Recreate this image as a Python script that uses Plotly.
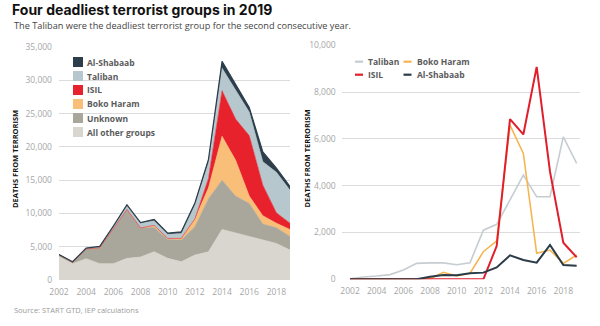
import plotly.graph_objects as go

# ---- data: deaths from terrorism, 2002-2019 ----
years = list(range(2002, 2020))
taliban = [20, 100, 140, 200, 400, 680, 700, 700, 620, 710, 2100, 2350, 3390, 4450, 3530, 3530, 6090, 4950]
boko_haram = [0, 0, 0, 0, 0, 0, 20, 300, 140, 260, 1180, 1640, 6590, 5380, 1110, 1250, 680, 1040]
isil = [0, 0, 0, 0, 0, 0, 0, 0, 0, 0, 0, 1420, 6845, 6190, 9080, 4600, 1560, 940]
al_shabaab = [0, 0, 0, 0, 0, 0, 110, 185, 170, 260, 285, 510, 1025, 825, 710, 1465, 610, 580]
unknown = [300, 200, 1450, 2400, 5250, 7350, 4350, 3650, 2850, 3250, 4250, 7950, 7400, 5500, 4900, 2400, 2350, 2050]
all_other = [3500, 2450, 3200, 2450, 2450, 3250, 3450, 4250, 3250, 2750, 3750, 4250, 7600, 7100, 6600, 6000, 5500, 4500]

x_ticks = list(range(2002, 2020, 2))
left_y_ticks = list(range(0, 35001, 5000))
right_y_ticks = list(range(0, 10001, 2000))

# ---- styling ----
W, H = 600, 326
FONT = "Open Sans"
TICK_COLOR = "#a6a6a6"
GRID_COLOR = "#dcdcdc"

area_colors = {
    "All other groups": "#d8d6ce",
    "Unknown": "#a9a69b",
    "Boko Haram": "#f9bf79",
    "ISIL": "#e8222c",
    "Taliban": "#b7c7ce",
    "Al-Shabaab": "#2c3e4b",
}
line_colors = {
    "Taliban": "#c6cdd1",
    "Boko Haram": "#f6b552",
    "ISIL": "#e01e2c",
    "Al-Shabaab": "#2b3b47",
}


def px_x(px):
    return px / W


def px_y(py):
    return 1 - py / H


fig = go.Figure()

# stacked areas (left panel), bottom layer first
stack = [
    ("All other groups", all_other),
    ("Unknown", unknown),
    ("Boko Haram", boko_haram),
    ("ISIL", isil),
    ("Taliban", taliban),
    ("Al-Shabaab", al_shabaab),
]
for name, vals in stack:
    fig.add_trace(go.Scatter(
        x=years, y=vals, name=name, mode="lines", stackgroup="one",
        line=dict(width=0.6 if name != "Al-Shabaab" else 1.2, color=area_colors[name]),
        fillcolor=area_colors[name], showlegend=False,
        xaxis="x", yaxis="y", hoverinfo="skip",
    ))

# individual group lines (right panel)
lines = [
    ("Taliban", taliban, 1.6),
    ("Boko Haram", boko_haram, 1.6),
    ("ISIL", isil, 2.0),
    ("Al-Shabaab", al_shabaab, 2.0),
]
for name, vals, w in lines:
    fig.add_trace(go.Scatter(
        x=years, y=vals, name=name, mode="lines",
        line=dict(width=w, color=line_colors[name]),
        showlegend=False, xaxis="x2", yaxis="y2", hoverinfo="skip",
    ))

shapes = []
annotations = []

# left legend: square swatches
left_legend = ["Al-Shabaab", "Taliban", "ISIL", "Boko Haram", "Unknown", "All other groups"]
for i, name in enumerate(left_legend):
    cy = 62 + 14 * i
    shapes.append(dict(
        type="rect", xref="paper", yref="paper",
        x0=px_x(73), x1=px_x(83), y0=px_y(cy + 5), y1=px_y(cy - 5),
        fillcolor=area_colors[name], line=dict(width=0),
    ))
    annotations.append(dict(
        text=f"<b>{name}</b>", xref="paper", yref="paper",
        x=px_x(85), y=px_y(cy), xanchor="left", yanchor="middle",
        showarrow=False, font=dict(family=FONT, size=8.5, color="#5b5b5b"),
    ))

# right legend: two columns of short line swatches
right_legend = [("Taliban", 0, 0), ("Boko Haram", 1, 0), ("ISIL", 0, 1), ("Al-Shabaab", 1, 1)]
col_x = [(355, 363, 366), (403.5, 411.5, 415)]
for name, col, row in right_legend:
    cy = 61.7 + 13 * row
    x0, x1, xt = col_x[col]
    shapes.append(dict(
        type="line", xref="paper", yref="paper",
        x0=px_x(x0), x1=px_x(x1), y0=px_y(cy), y1=px_y(cy),
        line=dict(color=line_colors[name], width=2.2),
    ))
    annotations.append(dict(
        text=f"<b>{name}</b>", xref="paper", yref="paper",
        x=px_x(xt), y=px_y(cy), xanchor="left", yanchor="middle",
        showarrow=False, font=dict(family=FONT, size=8.5, color="#5b5b5b"),
    ))

# y-axis titles
for xpx in (15, 306.5):
    annotations.append(dict(
        text="<b>DEATHS FROM TERRORISM</b>", xref="paper", yref="paper",
        x=px_x(xpx), y=px_y(159), xanchor="center", yanchor="middle",
        textangle=-90, showarrow=False,
        font=dict(family=FONT, size=7.5, color="#111111"),
    ))

# subtitle and source
annotations.append(dict(
    text="The Taliban were the deadliest terrorist group for the second consecutive year.",
    xref="paper", yref="paper", x=px_x(12), y=px_y(26),
    xanchor="left", yanchor="middle", showarrow=False,
    font=dict(family=FONT, size=9.2, color="#444444"),
))
annotations.append(dict(
    text="Source: START GTD, IEP calculations",
    xref="paper", yref="paper", x=px_x(12), y=px_y(309.5),
    xanchor="left", yanchor="middle", showarrow=False,
    font=dict(family=FONT, size=7.5, color="#9a9a9a"),
))

axis_common = dict(
    showline=False, zeroline=False, ticks="", automargin=False,
    tickfont=dict(family=FONT, size=8.5, color=TICK_COLOR),
)

fig.update_layout(
    width=W, height=H,
    margin=dict(l=0, r=0, t=0, b=0),
    paper_bgcolor="white", plot_bgcolor="white",
    showlegend=False,
    title=dict(
        text="<b>Four deadliest terrorist groups in 2019</b>",
        x=px_x(12), xanchor="left", y=px_y(10), yanchor="middle",
        font=dict(family="Inter", size=14, color="#111111", weight=900),
    ),
    xaxis=dict(
        domain=[px_x(59), px_x(290)], range=[2002, 2019],
        tickvals=x_ticks, showgrid=False, anchor="y",
        ticklabelstandoff=5, **axis_common,
    ),
    yaxis=dict(
        domain=[px_y(280), px_y(47)], range=[0, 35000],
        tickvals=left_y_ticks, tickformat=",d",
        showgrid=True, gridcolor=GRID_COLOR, gridwidth=1, anchor="x",
        ticklabelstandoff=6, **axis_common,
    ),
    xaxis2=dict(
        domain=[px_x(341.7), px_x(580)], range=[2001.375, 2019.25],
        tickvals=x_ticks, showgrid=False, anchor="y2",
        ticklabelstandoff=5, **axis_common,
    ),
    yaxis2=dict(
        domain=[px_y(279.3), px_y(45.3)], range=[0, 10000],
        tickvals=right_y_ticks, tickformat=",d",
        showgrid=True, gridcolor=GRID_COLOR, gridwidth=1, anchor="x2",
        ticklabelstandoff=5, **axis_common,
    ),
    shapes=shapes,
    annotations=annotations,
)

fig.write_html("out.html")
